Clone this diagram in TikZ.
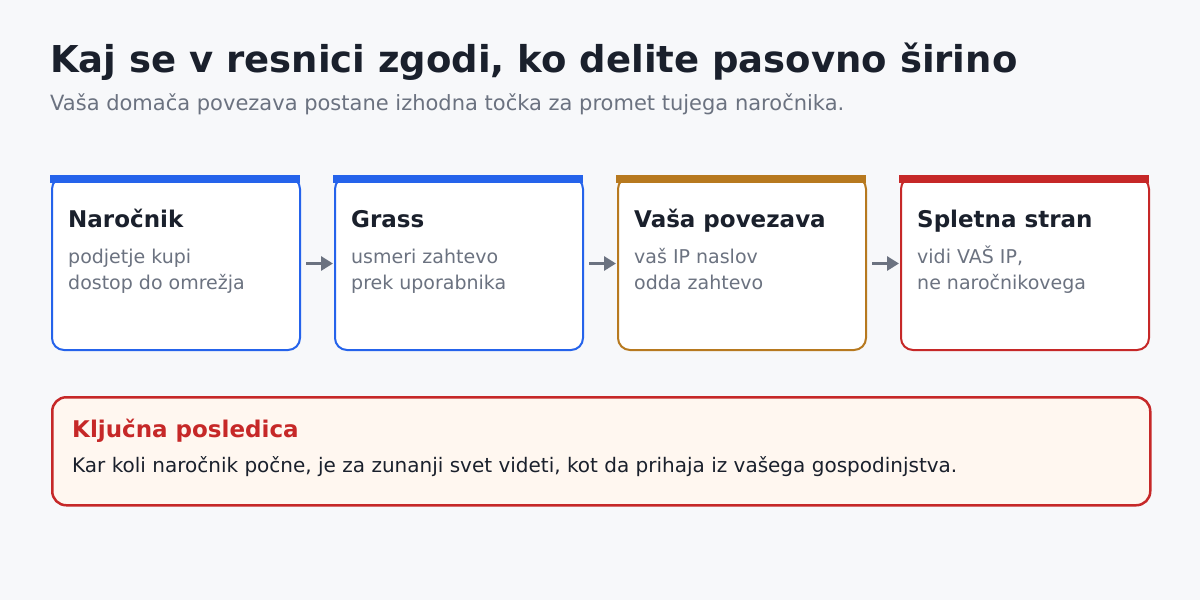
\documentclass[tikz,border=0pt]{standalone}
\usepackage{fontspec}
\setmainfont{DejaVu Sans}
\usetikzlibrary{arrows.meta,positioning}

\definecolor{bgpage}{HTML}{F7F8FA}
\definecolor{ink}{HTML}{1A202C}
\definecolor{muted}{HTML}{6B7280}
\definecolor{blueline}{HTML}{2563EB}
\definecolor{goldline}{HTML}{B7791F}
\definecolor{redline}{HTML}{C62828}
\definecolor{notefill}{HTML}{FFF7F0}

\tikzset{
  card/.style={draw=#1, line width=2pt, fill=white, rounded corners=12pt,
    minimum width=248pt, minimum height=173pt, inner sep=0pt, anchor=north west},
  cardtitle/.style={anchor=base west, inner sep=0pt, text=ink,
    font=\bfseries\fontsize{23}{27}\selectfont},
  cardtext/.style={anchor=base west, inner sep=0pt, text=muted, align=left,
    font=\fontsize{19}{26}\selectfont},
  flow/.style={-{Triangle[length=12pt,width=14pt]}, line width=3.5pt, muted, shorten >=1pt}
}

\begin{document}
\begin{tikzpicture}[x=1pt, y=-1pt, node distance=33pt]
\useasboundingbox (0,0) rectangle (1200,600);
\fill[bgpage] (0,0) rectangle (1200,600);

% heading
\node[anchor=base west, inner sep=0pt, text=ink, font=\bfseries\fontsize{37}{43}\selectfont] (title) at (50,72) {Kaj se v resnici zgodi, ko delite pasovno širino};
\node[anchor=base west, inner sep=0pt, text=muted, font=\fontsize{21}{25}\selectfont] (sub) at (50,110) {Vaša domača povezava postane izhodna točka za promet tujega naročnika.};

% cards
\node[card=blueline] (c1) at (51,176) {};
\node[card=blueline, right=of c1] (c2) {};
\node[card=goldline, right=of c2] (c3) {};
\node[card=redline, right=of c3] (c4) {};

\fill[blueline] (50,175) rectangle (300,183);
\fill[blueline] (333,175) rectangle (583,183);
\fill[goldline] (616,175) rectangle (866,183);
\fill[redline] (899,175) rectangle (1149,183);

\node[cardtitle] (t1) at (68,227) {Naročnik};
\node[cardtext] (b1) at (68,289) {podjetje kupi\\dostop do omrežja};
\node[cardtitle] (t2) at (351,227) {Grass};
\node[cardtext] (b2) at (351,289) {usmeri zahtevo\\prek uporabnika};
\node[cardtitle] (t3) at (634,227) {Vaša povezava};
\node[cardtext] (b3) at (634,289) {vaš IP naslov\\odda zahtevo};
\node[cardtitle] (t4) at (917,227) {Spletna stran};
\node[cardtext] (b4) at (917,289) {vidi VAŠ IP,\\ne naročnikovega};

\draw[flow] ([xshift=5pt]c1.east) -- (c2.west);
\draw[flow] ([xshift=5pt]c2.east) -- (c3.west);
\draw[flow] ([xshift=5pt]c3.east) -- (c4.west);

% consequence
\node[draw=redline, line width=2.5pt, fill=notefill, rounded corners=14pt,
  minimum width=1098pt, minimum height=108pt, inner sep=0pt, anchor=north west] (note) at (51,396) {};
\node[anchor=base west, inner sep=0pt, text=redline, font=\bfseries\fontsize{23}{27}\selectfont] (nt) at (72,437) {Ključna posledica};
\node[anchor=base west, inner sep=0pt, text=ink, font=\fontsize{20}{24}\selectfont] (nb) at (72,472) {Kar koli naročnik počne, je za zunanji svet videti, kot da prihaja iz vašega gospodinjstva.};
\end{tikzpicture}
\end{document}
